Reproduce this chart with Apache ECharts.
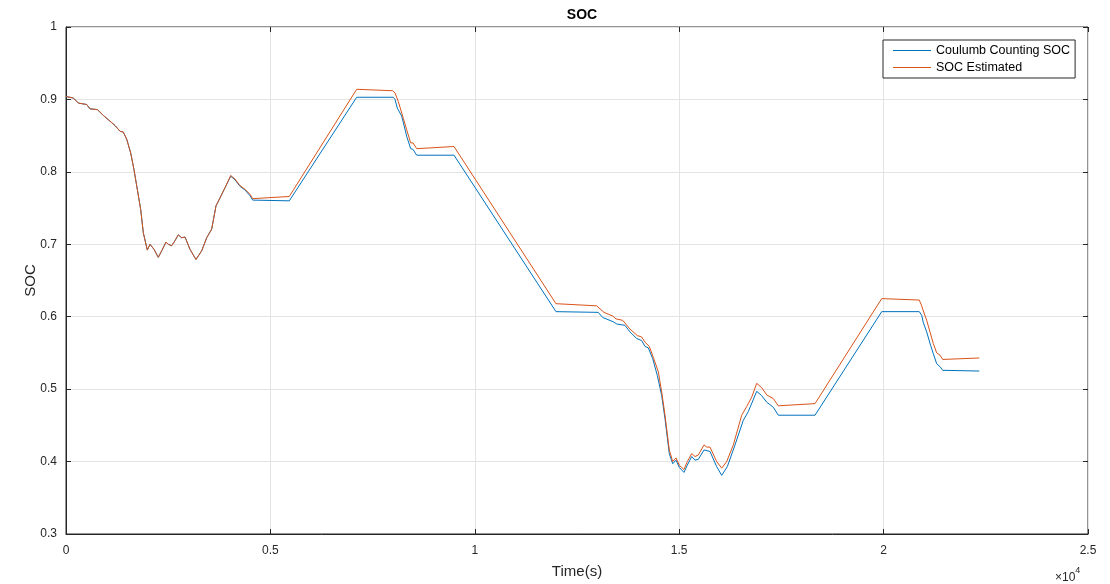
<!DOCTYPE html>
<html><head><meta charset="utf-8">
<script src="https://cdn.jsdelivr.net/npm/echarts@6/dist/echarts.min.js"></script>
<style>html,body{margin:0;padding:0;background:#fff}#c{width:1110px;height:584px}</style>
</head><body><div id="c"></div>
<script>
var xTicks = [0, 5000, 10000, 15000, 20000, 25000];
var yTicks = [0.3, 0.4, 0.5, 0.6, 0.7, 0.8, 0.9, 1];
var seriesNames = ['Coulumb Counting SOC', 'SOC Estimated'];

var timeCC = [0,179,301,506,587,766,912,1076,1199,1321,1402,1485,1583,1663,1744,1827,1891,1989,2055,2153,2258,2341,2446,2503,2585,2666,2747,2830,2911,3033,3180,3319,3442,3564,3669,3767,3889,4029,4134,4256,4379,4501,4567,5462,7111,8006,8048,8104,8212,8334,8432,8488,8579,9491,11986,13020,13128,13387,13471,13674,13796,13960,14082,14163,14244,14352,14464,14572,14653,14758,14841,14922,15002,15117,15198,15306,15387,15467,15607,15753,15917,16040,16177,16365,16568,16690,16896,17018,17141,17302,17424,18322,19954,20873,20932,20971,21054,21152,21216,21299,21380,21446,22341];
var socCC = [0.904,0.902,0.895,0.893,0.887,0.886,0.878,0.870,0.864,0.856,0.855,0.845,0.826,0.803,0.776,0.748,0.716,0.692,0.700,0.693,0.682,0.691,0.703,0.700,0.698,0.705,0.713,0.709,0.710,0.693,0.679,0.691,0.709,0.721,0.753,0.764,0.778,0.794,0.789,0.780,0.775,0.767,0.761,0.760,0.903,0.903,0.900,0.888,0.877,0.849,0.832,0.831,0.823,0.823,0.607,0.606,0.599,0.593,0.590,0.588,0.579,0.570,0.567,0.559,0.557,0.542,0.519,0.491,0.459,0.411,0.397,0.402,0.392,0.385,0.395,0.407,0.402,0.403,0.416,0.414,0.393,0.381,0.393,0.423,0.457,0.469,0.497,0.491,0.482,0.475,0.464,0.464,0.607,0.607,0.602,0.592,0.579,0.560,0.549,0.535,0.531,0.526,0.525];

var timeEst = [0,179,301,506,587,766,912,1076,1199,1321,1402,1485,1583,1663,1744,1827,1891,1989,2055,2153,2258,2341,2446,2503,2585,2666,2747,2830,2911,3033,3180,3319,3442,3564,3669,3767,3889,4029,4134,4256,4379,4501,4567,5462,7111,7992,8048,8129,8251,8334,8432,8488,8579,9491,11986,12981,13160,13373,13454,13617,13796,13975,14082,14163,14268,14366,14489,14572,14653,14758,14841,14922,15002,15117,15198,15306,15387,15467,15607,15673,15753,15917,16040,16162,16324,16529,16651,16774,16896,17018,17141,17302,17424,18322,19954,20873,20932,20971,21054,21135,21216,21299,21380,21446,22341];
var socEst = [0.904,0.902,0.895,0.893,0.887,0.886,0.878,0.870,0.864,0.856,0.855,0.845,0.826,0.803,0.776,0.748,0.716,0.692,0.700,0.693,0.682,0.691,0.703,0.700,0.698,0.705,0.713,0.709,0.710,0.693,0.679,0.691,0.709,0.721,0.753,0.764,0.778,0.795,0.790,0.781,0.776,0.769,0.763,0.766,0.914,0.912,0.909,0.897,0.874,0.858,0.840,0.840,0.832,0.835,0.618,0.615,0.606,0.601,0.597,0.595,0.583,0.574,0.572,0.565,0.559,0.544,0.524,0.496,0.464,0.416,0.400,0.405,0.395,0.389,0.400,0.411,0.407,0.409,0.423,0.420,0.420,0.400,0.391,0.400,0.423,0.464,0.476,0.489,0.508,0.502,0.492,0.487,0.477,0.480,0.625,0.623,0.615,0.608,0.595,0.579,0.563,0.550,0.547,0.541,0.543];

function zip(a, b) { return a.map(function (t, i) { return [t, b[i]]; }); }

var FONT = 'Liberation Sans';
var AX = '#262626';
var GRID = '#e3e3e3';
var COLORS = ['#0072BD', '#D95319'];
var xMin = xTicks[0], xMax = xTicks[xTicks.length - 1], xInt = xTicks[1] - xTicks[0];
var yMin = yTicks[0], yMax = yTicks[yTicks.length - 1], yInt = 0.1;

function baseX(pos, show) {
  return {
    type: 'value', position: pos, min: xMin, max: xMax, interval: xInt,
    axisLine: { show: show, onZero: false, lineStyle: { color: AX, width: 1 } },
    axisTick: { show: true, inside: true, length: 5, lineStyle: { color: AX } },
    axisLabel: { show: show, color: AX, fontFamily: FONT, fontSize: 12, margin: 11,
      formatter: function (v) { return String(+(v / 10000).toFixed(1)); } },
    splitLine: { show: show, lineStyle: { color: GRID, width: 1 } }
  };
}
function baseY(pos, show) {
  return {
    type: 'value', position: pos, min: yMin, max: yMax, interval: yInt,
    axisLine: { show: show, onZero: false, lineStyle: { color: AX, width: 1 } },
    axisTick: { show: true, inside: true, length: 5, lineStyle: { color: AX } },
    axisLabel: { show: show, color: AX, fontFamily: FONT, fontSize: 12, margin: 9,
      formatter: function (v) { return String(+v.toFixed(1)); } },
    splitLine: { show: show, lineStyle: { color: GRID, width: 1 } }
  };
}

var xa = baseX('bottom', true);
xa.name = 'Time(s)'; xa.nameLocation = 'middle'; xa.nameGap = 30; xa.nameMoveOverlap = false;
xa.nameTextStyle = { color: AX, fontFamily: FONT, fontSize: 15 };
var xt = baseX('top', false);
var ya = baseY('left', true);
ya.name = 'SOC'; ya.nameLocation = 'middle'; ya.nameGap = 28; ya.nameMoveOverlap = false;
ya.nameTextStyle = { color: AX, fontFamily: FONT, fontSize: 15 };
var yr = baseY('right', false);

var chart = echarts.init(document.getElementById('c'), null, { renderer: 'canvas' });
chart.setOption({
  animation: false,
  backgroundColor: '#fff',
  title: { text: 'SOC', left: 577, textAlign: 'center', top: 3,
    textStyle: { fontFamily: FONT, fontSize: 14, fontWeight: 'bold', color: '#000' } },
  grid: { left: 66, right: 22, top: 27, bottom: 48, show: true, borderColor: AX, borderWidth: 1, backgroundColor: 'transparent' },
  legend: {
    orient: 'vertical', left: 883, top: 40,
    data: [
      { name: seriesNames[0], itemStyle: { color: COLORS[0], borderWidth: 0 } },
      { name: seriesNames[1], itemStyle: { color: COLORS[1], borderWidth: 0 } }
    ],
    icon: 'rect', itemWidth: 38, itemHeight: 1, itemGap: 4,
    backgroundColor: '#fff', borderColor: AX, borderWidth: 1, borderRadius: 0,
    padding: [4, 5, 4, 10],
    textStyle: { fontFamily: FONT, fontSize: 12.5, color: '#000' }
  },
  xAxis: [xa, xt],
  yAxis: [ya, yr],
  graphic: [{
    type: 'text', left: 1055, top: 566,
    style: { text: '{a|×10}{b|4}', rich: {
      a: { fontFamily: FONT, fontSize: 12, fill: AX, verticalAlign: 'bottom', padding: [6, 0, 0, 0] },
      b: { fontFamily: FONT, fontSize: 9, fill: AX, verticalAlign: 'top' } } }
  }],
  series: [
    { name: seriesNames[0], type: 'line', xAxisIndex: 0, yAxisIndex: 0, data: zip(timeCC, socCC),
      showSymbol: false, symbol: 'none', lineStyle: { color: COLORS[0], width: 1 }, itemStyle: { color: COLORS[0] } },
    { name: seriesNames[1], type: 'line', xAxisIndex: 0, yAxisIndex: 0, data: zip(timeEst, socEst),
      showSymbol: false, symbol: 'none', lineStyle: { color: COLORS[1], width: 1 }, itemStyle: { color: COLORS[1] } }
  ]
});
</script></body></html>
